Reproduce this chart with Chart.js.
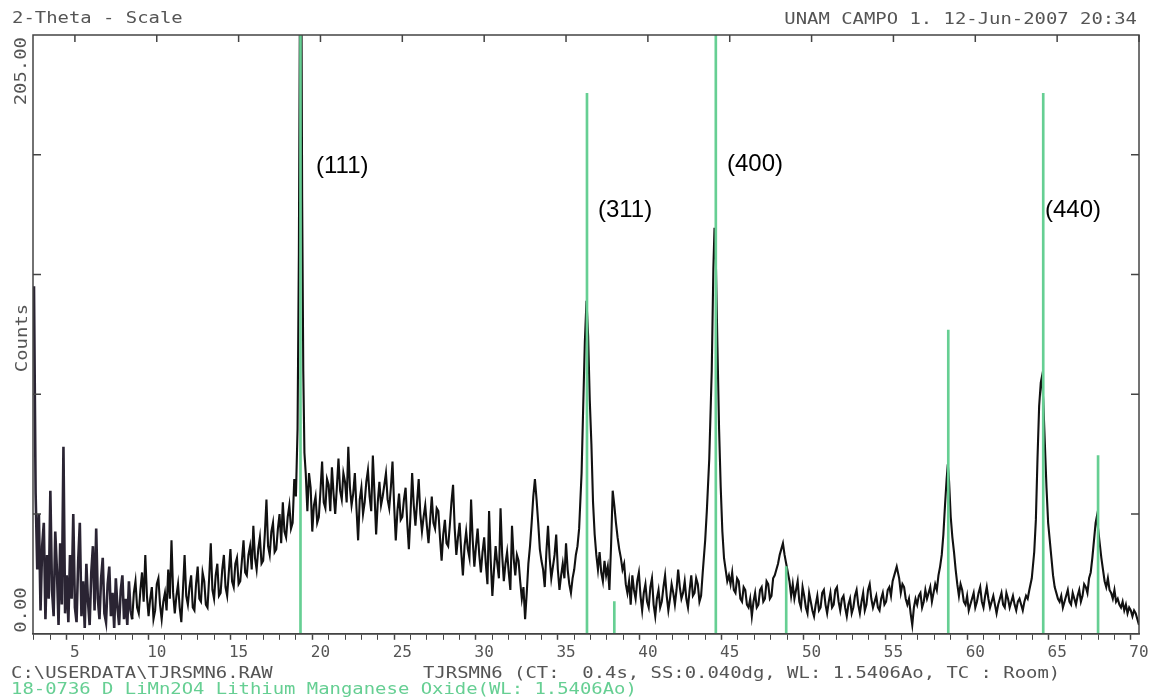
<!DOCTYPE html>
<html>
<head>
<meta charset="utf-8">
<title>LiMn2O4 XRD</title>
<script src="https://cdn.jsdelivr.net/npm/chart.js@4.4.0/dist/chart.umd.min.js"></script>
<style>
  body { margin: 0; background: #fff; }
  #wrap { width: 1157px; height: 700px; }
</style>
</head>
<body>
<div id="wrap"><canvas id="xrd" width="1157" height="700"></canvas></div>
<script>
const scanLow = [
  [2.5,119],[2.6,48],[2.7,22],[2.8,41],[2.9,8],[3.0,30],[3.1,38],[3.2,5],[3.3,27],[3.4,12],
  [3.5,49],[3.6,15],[3.7,6],[3.8,35],[3.9,22],[4.0,3],[4.1,31],[4.2,10],[4.3,64],[4.4,7],
  [4.5,20],[4.6,4],[4.7,27],[4.8,12],[4.9,41],[5.0,9],[5.1,4],[5.2,25],[5.3,38],[5.4,6],
  [5.5,18],[5.6,2],[5.7,24],[5.8,11],[5.9,3],[6.0,21],[6.1,30],[6.2,8],[6.3,36],[6.4,12],
  [6.5,5],[6.6,19],[6.7,26],[6.8,7],[6.9,4],[7.0,17],[7.1,23],[7.2,6],[7.3,14],[7.4,2],
  [7.5,19],[7.6,9],[7.7,3],[7.8,15],[7.9,20],[8.0,5],[8.1,12],[8.2,3],[8.3,18],[8.4,8]
];
const scanRise = [
  [8.5,5],[8.6,14],[8.7,18],[8.8,9],[8.9,7],[9.0,15],[9.1,21],[9.2,11],[9.3,27],[9.4,13],
  [9.5,6],[9.6,12],[9.7,16],[9.8,5],[9.9,8],[10.0,17],[10.1,19],[10.2,10],[10.3,5],[10.4,11],
  [10.5,14],[10.6,8],[10.7,22],[10.8,12],[10.9,32],[11.0,14],[11.1,7],[11.2,13],[11.3,17],[11.4,9],
  [11.5,4],[11.6,15],[11.7,27],[11.8,13],[11.9,10],[12.0,16],[12.1,20],[12.2,9],[12.3,8],[12.4,17],
  [12.5,23],[12.6,12],[12.7,11],[12.8,21],[12.9,18],[13.0,10],[13.1,9],[13.2,19],[13.3,31],[13.4,15],
  [13.5,12],[13.6,20],[13.7,24],[13.8,13],[13.9,14],[14.0,22],[14.1,27],[14.2,16],[14.3,13],[14.4,21],
  [14.5,29],[14.6,18],[14.7,16],[14.8,24],[14.9,26],[15.0,17],[15.1,18],[15.2,25],[15.3,32],[15.4,21],
  [15.5,20],[15.6,27],[15.7,30],[15.8,22],[15.9,37],[16.0,26],[16.1,22],[16.2,29],[16.3,33],[16.4,24],
  [16.5,25],[16.6,34],[16.7,46],[16.8,30],[16.9,27],[17.0,35],[17.1,38],[17.2,28],[17.3,29],[17.4,36],
  [17.5,41],[17.6,31],[17.7,45],[17.8,35],[17.9,33],[18.0,40],[18.1,44],[18.2,36],[18.3,38],[18.4,53],
  [18.5,47]
];
const scan111 = [
  [18.6,70],[18.68,130],[18.74,210],[18.78,245],[18.83,230],[18.88,150],[18.95,90],[19.02,62],[19.1,55]
];
const scanHump = [
  [19.2,42],[19.3,55],[19.4,50],[19.5,35],[19.6,44],[19.7,47],[19.8,38],[19.9,40],[20.0,49],[20.1,59],
  [20.2,45],[20.3,43],[20.4,53],[20.5,51],[20.6,42],[20.7,57],[20.8,48],[20.9,41],[21.0,50],[21.1,60],
  [21.2,49],[21.3,46],[21.4,55],[21.5,52],[21.6,45],[21.7,64],[21.8,50],[21.9,44],[22.0,48],[22.1,55],
  [22.2,43],[22.3,32],[22.4,46],[22.5,50],[22.6,41],[22.7,45],[22.8,52],[22.9,56],[23.0,47],[23.1,42],
  [23.2,61],[23.3,48],[23.4,34],[23.5,45],[23.6,52],[23.7,44],[23.8,47],[23.9,51],[24.0,55],[24.1,46],
  [24.2,43],[24.3,50],[24.4,59],[24.5,44],[24.6,32],[24.7,42],[24.8,48],[24.9,39],[25.0,40],[25.1,46],
  [25.2,50],[25.3,38],[25.4,29],[25.5,41],[25.6,55],[25.7,44],[25.8,37],[25.9,45],[26.0,53],[26.1,41],
  [26.2,35],[26.3,40],[26.4,44],[26.5,37],[26.6,31],[26.7,39],[26.8,47],[26.9,38],[27.0,36],[27.1,43],
  [27.2,42],[27.3,33],[27.4,25],[27.5,34],[27.6,39],[27.7,31],[27.8,30],[27.9,37],[28.0,45],[28.1,51],
  [28.2,36],[28.3,27],[28.4,33],[28.5,38],[28.6,28],[28.7,20],[28.8,30],[28.9,35],[29.0,29],[29.1,26],
  [29.2,46],[29.3,32],[29.4,23],[29.5,30],[29.6,36],[29.7,27],[29.8,21],[29.9,28],[30.0,33],[30.1,24],
  [30.2,17],[30.3,42],[30.4,25],[30.5,13],[30.6,22],[30.7,30],[30.8,24],[30.9,19],[31.0,43],[31.1,27],
  [31.2,18],[31.3,24],[31.4,28],[31.5,21],[31.6,15],[31.7,37],[31.8,26],[31.9,20],[32.0,27],[32.1,25],
  [32.2,18],[32.3,12],[32.4,16],[32.5,5],[32.6,14],[32.7,24],[32.8,30],[32.9,38],[33.0,47],[33.1,53],
  [33.2,46],[33.3,38],[33.4,29],[33.5,25],[33.6,22],[33.7,16],[33.8,28],[33.9,37],[34.0,26],[34.1,19],
  [34.2,23],[34.3,27],[34.4,34],[34.5,22],[34.6,15],[34.7,20],[34.8,24],[34.9,19],[35.0,31],[35.1,22],
  [35.2,17],[35.3,14],[35.4,19],[35.5,22],[35.6,27],[35.7,30],[35.8,36]
];
const scanMid = [
  [35.95,55],[36.05,78],[36.15,100],[36.25,114],[36.35,102],[36.45,80],[36.55,65],[36.65,45],[36.75,34],[36.85,27],
  [36.95,22],[37.05,28],[37.15,21],[37.25,18],[37.35,25],[37.45,20],[37.55,23],[37.65,15],[37.75,30],[37.85,49],
  [37.95,44],[38.05,38],[38.15,33],[38.25,29],[38.35,26],[38.45,22],[38.55,24],[38.65,17],[38.75,14],[38.85,18],
  [38.95,10],[39.05,20],[39.15,15],[39.25,12],[39.35,18],[39.45,21],[39.55,13],[39.65,8],[39.75,14],[39.85,17],
  [39.95,11],[40.05,9],[40.15,16],[40.25,19],[40.35,10],[40.45,6],[40.55,12],[40.65,15],[40.75,9],[40.85,11],
  [40.95,16],[41.05,20],[41.15,13],[41.25,8],[41.35,12],[41.45,17],[41.55,14],[41.65,10],[41.75,15],[41.85,22],
  [41.95,16],[42.05,12],[42.15,14],[42.25,18],[42.35,12],[42.45,9],[42.55,15],[42.65,20],[42.75,13],[42.85,14],
  [42.95,19],[43.05,17],[43.15,11],[43.25,13],[43.35,21],[43.5,32],[43.6,42],[43.75,60],[43.9,90],[44.0,125],
  [44.07,139],[44.15,128],[44.25,98],[44.35,70],[44.45,50],[44.55,35],[44.65,26],[44.75,22],[44.85,18],[44.95,20],
  [45.05,17],[45.15,21],[45.25,15],[45.35,14],[45.45,19],[45.55,18],[45.65,12],[45.75,11],[45.85,16],[45.95,15],
  [46.05,10],[46.15,9],[46.25,12],[46.35,6],[46.45,11],[46.55,14],[46.65,9],[46.75,10],[46.85,15],[46.95,16],
  [47.05,11],[47.15,12],[47.25,18],[47.35,17],[47.45,12],[47.55,13],[47.65,19],[47.75,20],[47.85,22],[47.95,24],
  [48.05,27],[48.15,29],[48.25,31],[48.35,27],[48.45,24],[48.55,21],[48.65,18],[48.75,13],[48.85,17]
];
const scanHigh = [
  [48.95,12],[49.05,15],[49.15,18],[49.25,11],[49.35,9],[49.45,16],[49.55,13],[49.65,9],[49.75,7],[49.85,14],
  [49.95,11],[50.05,8],[50.15,6],[50.25,10],[50.35,13],[50.45,8],[50.55,9],[50.65,14],[50.75,15],[50.85,10],
  [50.95,7],[51.05,11],[51.15,14],[51.25,9],[51.35,10],[51.45,15],[51.55,16],[51.65,11],[51.75,8],[51.85,12],
  [51.95,13],[52.05,9],[52.15,6],[52.25,10],[52.35,12],[52.45,7],[52.55,9],[52.65,13],[52.75,15],[52.85,10],
  [52.95,7],[53.05,11],[53.15,14],[53.25,8],[53.35,10],[53.45,15],[53.55,17],[53.65,12],[53.75,9],[53.85,11],
  [53.95,13],[54.05,9],[54.15,8],[54.25,12],[54.35,14],[54.45,10],[54.55,11],[54.65,15],[54.75,16],[54.85,13],
  [54.95,18],[55.05,20],[55.2,23],[55.35,19],[55.45,14],[55.55,17],[55.65,16],[55.75,12],[55.85,10],[55.95,12],
  [56.05,7],[56.15,3],[56.25,9],[56.35,12],[56.45,10],[56.55,13],[56.65,14],[56.75,9],[56.85,11],[56.95,15],
  [57.05,12],[57.15,14],[57.25,16],[57.35,11],[57.45,14],[57.55,17],[57.65,15],[57.75,20],[57.85,23],[57.95,27],
  [58.05,34],[58.15,44],[58.25,53],[58.32,58],[58.4,52],[58.5,40],[58.6,33],[58.7,28],[58.8,22],[58.9,17],
  [59.0,13],[59.1,17],[59.2,15],[59.3,11],[59.4,10],[59.5,13],[59.6,8],[59.7,10],[59.8,12],[59.9,14],
  [60.0,9],[60.1,11],[60.2,14],[60.3,16],[60.4,11],[60.5,9],[60.6,13],[60.7,16],[60.8,12],[60.9,9],
  [61.0,11],[61.1,13],[61.2,10],[61.3,7],[61.4,10],[61.5,12],[61.6,14],[61.7,10],[61.8,9],[61.9,14],
  [62.0,12],[62.1,9],[62.2,11],[62.3,13],[62.4,10],[62.5,8],[62.6,11],[62.7,12],[62.8,10],[62.9,8],
  [63.0,11],[63.1,13],[63.2,12],[63.3,15],[63.45,19],[63.6,28],[63.7,39],[63.8,60],[63.9,78],[64.0,86],
  [64.07,88],[64.15,80],[64.25,65],[64.35,50],[64.45,38],[64.55,32],[64.65,26],[64.75,20],[64.85,16],[64.95,14],
  [65.05,12],[65.15,11],[65.25,13],[65.35,9],[65.45,11],[65.55,13],[65.65,15],[65.75,11],[65.85,10],[65.95,14],
  [66.05,12],[66.15,10],[66.25,13],[66.35,15],[66.45,11],[66.55,13],[66.65,17],[66.75,16],[66.85,14],[66.95,19],
  [67.05,21],[67.15,26],[67.25,32],[67.35,38],[67.42,40],[67.5,36],[67.6,31],[67.7,26],[67.8,22],[67.9,18],
  [68.0,16],[68.1,19],[68.2,15],[68.3,14],[68.4,12],[68.5,15],[68.6,11],[68.7,12],[68.8,10],[68.9,9],
  [69.0,11],[69.1,8],[69.2,10],[69.3,7],[69.4,9],[69.5,8],[69.6,6],[69.7,8],[69.8,7],[69.9,5],
  [70.0,3]
];

// reference card 18-0736 (LiMn2O4) stick positions and heights
const refTheta = [18.78, 36.28, 37.95, 44.15, 48.45, 58.35, 64.15, 67.5];
const refHeight = [230, 185, 11, 230, 23, 104, 185, 61];

// axis
const xTickLabels = [5, 10, 15, 20, 25, 30, 35, 40, 45, 50, 55, 60, 65, 70];
const yTicks = [0, 41, 82, 123, 164, 205];

// peak annotations
const peakNames = ['(111)', '(311)', '(400)', '(440)'];
const peakTheta = [19.73, 36.95, 44.83, 64.26];
const peakCounts = [160, 145, 160.7, 145];

const scan = [...scanLow, ...scanRise, ...scan111, ...scanHump, ...scanMid, ...scanHigh];
const xMinor = [];
for (let t = 3; t <= 70; t++) xMinor.push(t);

const GRAY = '#555';
const GREEN = '#66cf93';
const MONO = '15px "DejaVu Sans Mono", monospace';

function wideText(ctx, str, x, y, align, angle) {
  ctx.save();
  ctx.translate(x, y);
  if (angle) ctx.rotate(angle);
  ctx.scale(1.26, 1);
  ctx.textAlign = align;
  ctx.textBaseline = 'middle';
  ctx.fillText(str, 0, 0);
  ctx.restore();
}

const frameAndText = {
  id: 'frameAndText',
  afterDraw(chart) {
    const { ctx, chartArea: a } = chart;
    const x = chart.scales.x, y = chart.scales.y;
    ctx.save();
    ctx.strokeStyle = '#444';
    ctx.lineWidth = 1.5;
    ctx.strokeRect(a.left, a.top, a.right - a.left, a.bottom - a.top);

    // inward ticks on top, left and right
    ctx.beginPath();
    xTickLabels.forEach(v => {
      const px = x.getPixelForValue(v);
      ctx.moveTo(px, a.top);
      ctx.lineTo(px, a.top + 7);
    });
    yTicks.slice(1, -1).forEach(v => {
      const py = y.getPixelForValue(v);
      ctx.moveTo(a.left, py); ctx.lineTo(a.left + 8, py);
      ctx.moveTo(a.right, py); ctx.lineTo(a.right - 8, py);
    });
    ctx.stroke();

    ctx.font = MONO;
    ctx.fillStyle = GRAY;
    wideText(ctx, '2-Theta - Scale', 12, 19, 'left');
    wideText(ctx, 'UNAM CAMPO 1. 12-Jun-2007 20:34', 1137, 20, 'right');
    wideText(ctx, '205.00', 22, y.getPixelForValue(205) + 2, 'right', -Math.PI / 2);
    wideText(ctx, '0.00', 22, y.getPixelForValue(0) - 1, 'left', -Math.PI / 2);
    wideText(ctx, 'Counts', 23, 338, 'center', -Math.PI / 2);
    wideText(ctx, 'C:\\USERDATA\\TJRSMN6.RAW', 11, 674, 'left');
    wideText(ctx, 'TJRSMN6 (CT:  0.4s, SS:0.040dg, WL: 1.5406Ao, TC : Room)', 423, 674, 'left');
    ctx.fillStyle = GREEN;
    wideText(ctx, '18-0736 D LiMn2O4 Lithium Manganese Oxide(WL: 1.5406Ao)', 11, 690, 'left');

    ctx.font = '24px "Liberation Sans", Arial, sans-serif';
    ctx.fillStyle = '#000';
    ctx.textAlign = 'left';
    ctx.textBaseline = 'middle';
    peakNames.forEach((n, i) => {
      ctx.fillText(n, x.getPixelForValue(peakTheta[i]), y.getPixelForValue(peakCounts[i]));
    });
    ctx.restore();
  }
};

const ctx = document.getElementById('xrd').getContext('2d');
new Chart(ctx, {
  type: 'line',
  data: {
    datasets: [
      {
        type: 'bar',
        label: '18-0736 LiMn2O4',
        data: refTheta.map((t, i) => ({ x: t, y: refHeight[i] })),
        backgroundColor: GREEN,
        barThickness: 2,
        grouped: false,
        order: 0
      },
      {
        type: 'line',
        label: 'TJRSMN6',
        data: scan.map(p => ({ x: p[0], y: p[1] })),
        borderColor: '#111',
        borderWidth: 2.1,
        pointRadius: 0,
        tension: 0,
        segment: {
          // low-angle part is a dense dark band in the scan
          borderColor: c => c.p0.parsed.x < 8.5 ? '#2a2433' : undefined,
          borderWidth: c => c.p0.parsed.x < 8.5 ? 2.6 : undefined
        },
        order: 1
      }
    ]
  },
  options: {
    responsive: false,
    animation: false,
    layout: { padding: { left: 33, top: 35, right: 18, bottom: 35 } },
    plugins: { legend: { display: false }, tooltip: { enabled: false } },
    scales: {
      x: {
        type: 'linear',
        min: 2.44,
        max: 70,
        offset: false,
        afterBuildTicks: s => { s.ticks = xMinor.map(v => ({ value: v })); },
        ticks: {
          autoSkip: false,
          maxRotation: 0,
          padding: 3,
          color: GRAY,
          font: { family: 'DejaVu Sans Mono', size: 16 },
          callback: v => xTickLabels.includes(v) ? String(v) : ''
        },
        grid: {
          drawOnChartArea: false,
          tickLength: 6,
          tickColor: '#444',
          tickWidth: c => (c.tick && xTickLabels.includes(c.tick.value)) ? 1.5 : 1
        },
        border: { color: '#444', width: 1.5 }
      },
      y: {
        type: 'linear',
        min: 0,
        max: 205,
        display: false
      }
    }
  },
  plugins: [frameAndText]
});
</script>
</body>
</html>
